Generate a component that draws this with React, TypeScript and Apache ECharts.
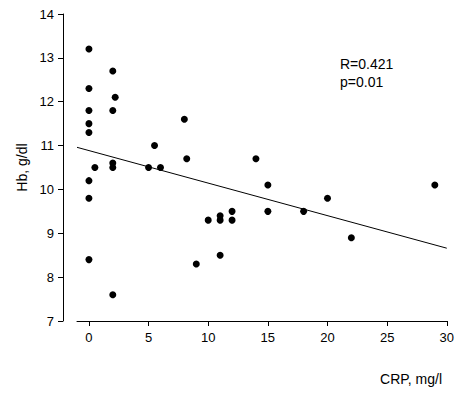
import React, { useEffect, useRef } from "react";
import * as echarts from "echarts";

const crp = [0, 0, 0, 0, 0, 0.5, 0, 0, 0, 2, 2.2, 2, 2, 2, 2, 5, 5.5, 6, 8, 8.2, 9, 10, 11, 11, 11, 12, 12, 14, 15, 15, 18, 20, 22, 29];
const hb = [13.2, 12.3, 11.8, 11.5, 11.3, 10.5, 10.2, 9.8, 8.4, 12.7, 12.1, 11.8, 10.6, 10.5, 7.6, 10.5, 11.0, 10.5, 11.6, 10.7, 8.3, 9.3, 9.4, 9.3, 8.5, 9.5, 9.3, 10.7, 10.1, 9.5, 9.5, 9.8, 8.9, 10.1];
const lineX = [-1, 30];
const lineY = [10.96, 8.66];
const xTicks = [0, 5, 10, 15, 20, 25, 30];
const stats = ["R=0.421", "p=0.01"];

const FONT = "Liberation Sans, Arial, sans-serif";

export default function App() {
  const ref = useRef<HTMLDivElement>(null);
  useEffect(() => {
    if (!ref.current) return;
    const chart = echarts.init(ref.current, null, { renderer: "svg" });
    chart.setOption({
      animation: false,
      backgroundColor: "#fff",
      grid: { left: 77, right: 10, top: 14, bottom: 73 },
      xAxis: {
        type: "value",
        min: -1,
        max: 30,
        splitLine: { show: false },
        axisLine: { show: true, onZero: false, lineStyle: { color: "#000", width: 1 } },
        axisTick: { show: true, length: 5, lineStyle: { color: "#000" }, customValues: xTicks },
        axisLabel: { color: "#000", fontSize: 13, fontFamily: FONT, margin: 10, customValues: xTicks },
      },
      yAxis: {
        type: "value",
        min: 7,
        max: 14,
        interval: 1,
        offset: 14,
        splitLine: { show: false },
        axisLine: { show: true, onZero: false, lineStyle: { color: "#000", width: 1 } },
        axisTick: { show: true, length: 5, lineStyle: { color: "#000" } },
        axisLabel: { color: "#000", fontSize: 13, fontFamily: FONT, margin: 9 },
        name: "Hb, g/dl",
        nameLocation: "middle",
        nameGap: 33,
        nameTextStyle: { color: "#000", fontSize: 14, fontFamily: FONT },
      },
      series: [
        {
          type: "line",
          data: lineX.map((x, i) => [x, lineY[i]]),
          showSymbol: false,
          symbol: "none",
          lineStyle: { color: "#000", width: 1 },
          silent: true,
          z: 1,
        },
        {
          type: "scatter",
          data: crp.map((x, i) => [x, hb[i]]),
          symbol: "circle",
          symbolSize: 7,
          itemStyle: { color: "#000", opacity: 1 },
          z: 2,
        },
      ],
      graphic: [
        {
          type: "text",
          left: 340,
          top: 55,
          style: { text: stats.join("\n"), fill: "#000", fontSize: 14, fontFamily: FONT, lineHeight: 18 },
        },
        {
          type: "text",
          right: 15,
          top: 372,
          style: { text: "CRP, mg/l", fill: "#000", fontSize: 14, fontFamily: FONT },
        },
      ],
    });
    return () => chart.dispose();
  }, []);
  return <div ref={ref} style={{ width: 457, height: 394, position: "absolute", left: 0, top: 0 }} />;
}
